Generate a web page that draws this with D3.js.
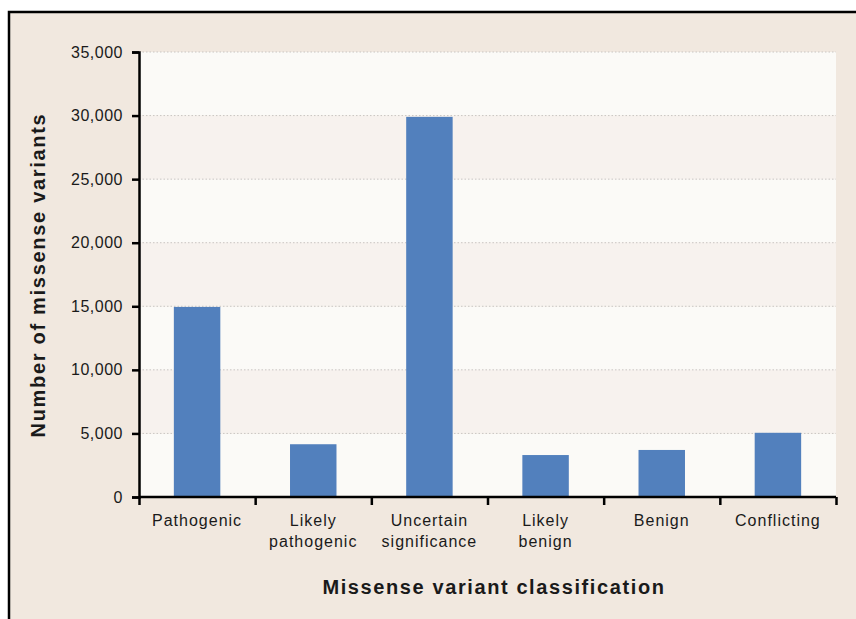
<!DOCTYPE html>
<html>
<head>
<meta charset="utf-8">
<script src="https://cdn.jsdelivr.net/npm/d3@7"></script>
<style>
  body { margin: 0; background: #fff; }
  text { font-family: "Liberation Sans", Arial, sans-serif; fill: #1a1a1a; }
</style>
</head>
<body>
<div id="chart"></div>
<script>
let categories = ['Pathogenic', 'Likely pathogenic', 'Uncertain significance', 'Likely benign', 'Benign', 'Conflicting']
let labelLines = [['Pathogenic'], ['Likely', 'pathogenic'], ['Uncertain', 'significance'], ['Likely', 'benign'], ['Benign'], ['Conflicting']]
let counts = [14950, 4150, 29900, 3300, 3700, 5050]
let yTicks = [0, 5000, 10000, 15000, 20000, 25000, 30000, 35000]

let margin = { top: 52, left: 139, right: 20, bottom: 122 }
let width = 856 - margin.left - margin.right
let height = 619 - margin.top - margin.bottom

let root = d3.select('#chart')
  .append('svg')
  .attr('width', 856)
  .attr('height', 619)

// panel background + border
root.append('rect')
  .attr('x', 9).attr('y', 12)
  .attr('width', 856).attr('height', 620)
  .attr('fill', '#f1e8df')
  .attr('stroke', '#000')
  .attr('stroke-width', 2.5)

let svg = root.append('g')
  .attr('transform', 'translate(' + margin.left + ',' + margin.top + ')')

let x = d3.scaleBand().domain(categories).range([0, width]).paddingInner(0.6).paddingOuter(0.3)
let xTickScale = d3.scaleLinear().domain([0, categories.length]).range([0, width])
let y = d3.scaleLinear().domain([0, 35000]).range([height, 0])

// alternating bands
svg.append('g')
  .selectAll('rect')
  .data(d3.pairs(yTicks))
  .enter().append('rect')
  .attr('x', 0)
  .attr('width', width)
  .attr('y', d => y(d[1]))
  .attr('height', d => y(d[0]) - y(d[1]))
  .attr('fill', (d, i) => i % 2 === 0 ? '#fbfaf7' : '#f7f2ee')

// dotted gridlines
svg.append('g')
  .selectAll('line')
  .data(yTicks.slice(1))
  .enter().append('line')
  .attr('x1', 0).attr('x2', width)
  .attr('y1', d => y(d)).attr('y2', d => y(d))
  .attr('stroke', '#c9c6c3')
  .attr('stroke-width', 1)
  .attr('stroke-dasharray', '1.5,2')

// bars
svg.append('g')
  .selectAll('rect')
  .data(counts)
  .enter().append('rect')
  .attr('x', (d, i) => x(categories[i]))
  .attr('width', x.bandwidth())
  .attr('y', d => y(d))
  .attr('height', d => height - y(d))
  .attr('fill', '#5280bd')

// y axis
let yAxis = d3.axisLeft(y)
  .tickValues(yTicks)
  .tickFormat(d3.format(','))
  .tickSize(7)
  .tickPadding(9)

svg.append('g')
  .call(yAxis)
  .call(g => g.select('.domain').attr('stroke', '#000').attr('stroke-width', 2.5))
  .call(g => g.selectAll('.tick line').attr('stroke', '#000').attr('stroke-width', 2.5))
  .call(g => g.selectAll('.tick text')
    .attr('font-size', 16)
    .attr('letter-spacing', 0.5)
    .attr('font-family', '"Liberation Sans", Arial, sans-serif')
    .attr('fill', '#1a1a1a'))

// x axis
let xAxis = d3.axisBottom(xTickScale)
  .tickValues(d3.range(categories.length + 1))
  .tickSize(8)
  .tickFormat('')

svg.append('g')
  .attr('transform', 'translate(0,' + height + ')')
  .call(xAxis)
  .call(g => g.select('.domain').attr('stroke', '#000').attr('stroke-width', 2.5).attr('d', 'M0,0H' + width))
  .call(g => g.selectAll('.tick line').attr('stroke', '#000').attr('stroke-width', 2.5))

// category labels
svg.append('g')
  .selectAll('text')
  .data(categories)
  .enter().append('text')
  .attr('x', d => x(d) + x.bandwidth() / 2)
  .attr('y', height + 29)
  .attr('text-anchor', 'middle')
  .attr('font-size', 16)
  .attr('letter-spacing', 1)
  .each(function(d, i) {
    let t = d3.select(this)
    labelLines[i].forEach((line, j) => {
      t.append('tspan')
        .attr('x', x(d) + x.bandwidth() / 2)
        .attr('dy', j === 0 ? 0 : 21)
        .text(line)
    })
  })

// axis titles
root.append('text')
  .attr('transform', 'translate(45,275) rotate(-90)')
  .attr('text-anchor', 'middle')
  .attr('font-size', 20)
  .attr('letter-spacing', 1.7)
  .attr('font-weight', 'bold')
  .text('Number of missense variants')

root.append('text')
  .attr('x', 494)
  .attr('y', 594)
  .attr('text-anchor', 'middle')
  .attr('font-size', 20)
  .attr('letter-spacing', 1.6)
  .attr('font-weight', 'bold')
  .text('Missense variant classification')
</script>
</body>
</html>
